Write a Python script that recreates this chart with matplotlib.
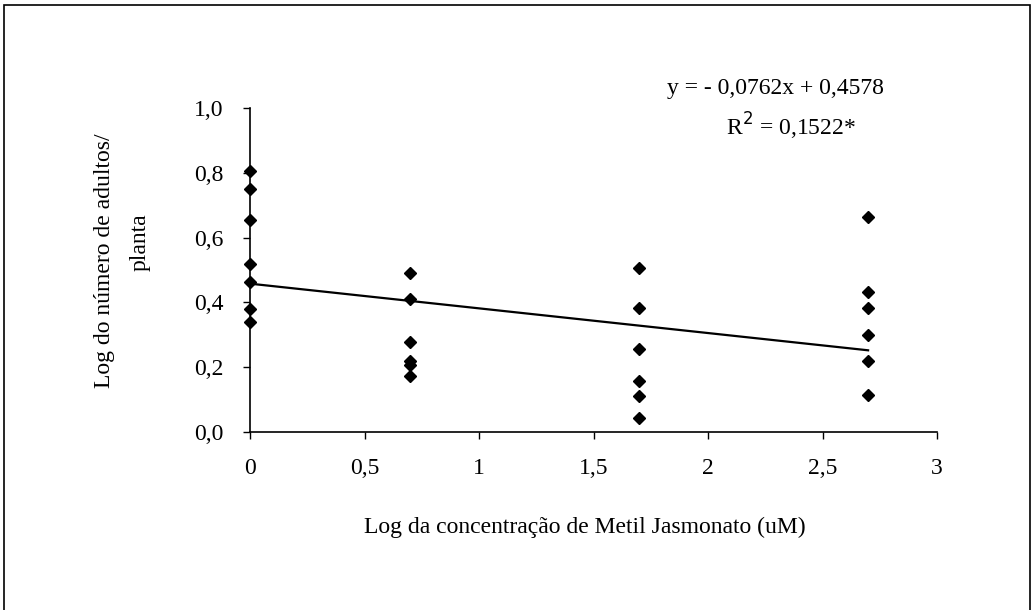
import matplotlib
matplotlib.use('Agg')
import matplotlib.pyplot as plt
from matplotlib.patches import Rectangle
from matplotlib.ticker import FuncFormatter

# log of the methyl jasmonate concentration (uM) and log adults per plant
dose_x = [0.0, 0.699, 1.699, 2.699]
adults_0 = [0.806, 0.750, 0.655, 0.517, 0.462, 0.380, 0.341]
adults_5 = [0.492, 0.411, 0.279, 0.219, 0.207, 0.173]
adults_50 = [0.506, 0.382, 0.257, 0.158, 0.112, 0.044]
adults_500 = [0.662, 0.432, 0.384, 0.300, 0.219, 0.114]

slope = -0.0762
intercept = 0.4578
x_ticks = [0, 0.5, 1, 1.5, 2, 2.5, 3]
y_ticks = [0.0, 0.2, 0.4, 0.6, 0.8, 1.0]

plt.rcParams['font.family'] = ['Liberation Serif', 'DejaVu Serif']

fig = plt.figure(figsize=(10.34, 6.1), dpi=100)
ax = fig.add_axes([0.2418, 0.2918, 0.6644, 0.5312])

groups = [adults_0, adults_5, adults_50, adults_500]
for xv, ys in zip(dose_x, groups):
    ax.plot([xv] * len(ys), ys, 'D', color='black', markersize=6.5, clip_on=False)

fit_x = [dose_x[0], dose_x[-1]]
fit_y = [slope * v + intercept for v in fit_x]
ax.plot(fit_x, fit_y, '-', color='black', lw=1.6)

ax.set_xlim(0, 3)
ax.set_ylim(0, 1.0)
ax.set_xticks(x_ticks)
ax.set_yticks(y_ticks)
ax.xaxis.set_major_formatter(FuncFormatter(lambda v, p: ('%g' % v).replace('.', ',')))
ax.yaxis.set_major_formatter(FuncFormatter(lambda v, p: ('%.1f' % v).replace('.', ',')))
ax.tick_params(labelsize=17, length=5, width=1, direction='out', pad=14)

for s in ['top', 'right']:
    ax.spines[s].set_visible(False)
for s in ['left', 'bottom']:
    ax.spines[s].set_linewidth(1.2)

ax.set_xlabel('Log da concentração de Metil Jasmonato (uM)', fontsize=17)
ax.xaxis.set_label_coords(0.488, -0.262)
# y label: second line sits a bit higher than the first in the original
ax.set_ylabel('Log do número de adultos/', fontsize=17)
ax.yaxis.set_label_coords(-0.197, 0.528)
ax.text(-0.160, 0.586, 'planta', transform=ax.transAxes, fontsize=17,
        rotation=90, ha='center', va='center')

fig.text(0.75, 0.855, 'y = - 0,0762x + 0,4578', fontsize=17, ha='center', va='center')
fig.text(0.765, 0.792, 'R$^2$ = 0,1522*', fontsize=17, ha='center', va='center')

fig.patches.append(Rectangle((0.004, -0.01), 0.992, 1.002, transform=fig.transFigure,
                             fill=False, edgecolor='black', lw=1.2))

fig.savefig('out.png', dpi=100)
